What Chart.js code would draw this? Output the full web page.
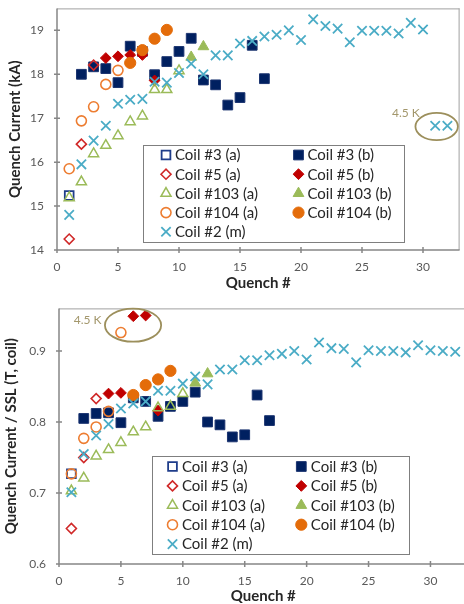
<!DOCTYPE html>
<html>
<head>
<meta charset="utf-8">
<script src="https://cdn.jsdelivr.net/npm/chart.js@4/dist/chart.umd.min.js"></script>
<style>
  html, body { margin: 0; padding: 0; background: #fff; overflow: hidden; width: 464px; height: 604px; }
  #topWrap { position: absolute; left: 0; top: 0; width: 468px; height: 300px; }
  #botWrap { position: absolute; left: 0; top: 300px; width: 476px; height: 304px; }
  canvas { display: block; }
</style>
</head>
<body>
<div id="topWrap"><canvas id="currentChart" width="468" height="300"></canvas></div>
<div id="botWrap"><canvas id="ratioChart" width="476" height="304"></canvas></div>
<script>
// ---- axis ticks ----
const xTicks = [0, 5, 10, 15, 20, 25, 30];
const yTicksCurrent = [14, 15, 16, 17, 18, 19];
const yTicksRatio = [0.6, 0.7, 0.8, 0.9];

// ---- series names ----
const seriesLabels = ['Coil #3 (a)', 'Coil #3 (b)', 'Coil #5 (a)', 'Coil #5 (b)',
  'Coil #103 (a)', 'Coil #103 (b)', 'Coil #104 (a)', 'Coil #104 (b)', 'Coil #2 (m)'];

// ---- quench numbers per series ----
const q3a = [1];
const q3b = [2, 3, 4, 5, 6, 7, 8, 9, 10, 11, 12, 13, 14, 15, 16, 17];
const q5a = [1, 2, 3];
const q5b = [4, 5, 6, 7, 8];
const q103a = [1, 2, 3, 4, 5, 6, 7, 8, 9, 10];
const q103b = [11, 12];
const q104a = [1, 2, 3, 4, 5];
const q104b = [6, 7, 8, 9];
const q2m = [1, 2, 3, 4, 5, 6, 7, 8, 9, 10, 11, 12, 13, 14, 15, 16,
  17, 18, 19, 20, 21, 22, 23, 24, 25, 26, 27, 28, 29, 30, 31, 32];

// ---- quench current, kA ----
const kA3a = [15.24];
const kA3b = [18.00, 18.17, 18.13, 17.81, 18.64, 18.52, 17.99, 18.29, 18.52, 18.82, 17.87, 17.76, 17.30, 17.47, 18.66, 17.90];
const kA5a = [14.25, 16.41, 18.21];
const kA5b = [18.37, 18.41, 18.44, 18.44, 17.86];
const kA103a = [15.19, 15.55, 16.19, 16.38, 16.60, 16.92, 17.05, 17.65, 17.65, 18.08];
const kA103b = [18.39, 18.63];
const kA104a = [15.85, 16.94, 17.26, 17.77, 18.09];
const kA104b = [18.26, 18.55, 18.81, 19.01];
const kA2m = [14.80, 15.95, 16.49, 16.83, 17.33, 17.42, 17.44, 17.83, 17.81, 18.03, 18.24, 18.00, 18.43, 18.43, 18.70, 18.76,
  18.86, 18.90, 19.00, 18.78, 19.25, 19.10, 19.04, 18.73, 18.99, 18.99, 18.99, 18.93, 19.17, 19.02, 16.83, 16.83];

// ---- quench current / short-sample limit ----
const ssl3a = [0.727];
const ssl3b = [0.805, 0.812, 0.813, 0.799, 0.834, 0.829, 0.808, 0.822, 0.829, 0.842, 0.800, 0.796, 0.779, 0.782, 0.838, 0.802];
const ssl5a = [0.650, 0.750, 0.833];
const ssl5b = [0.840, 0.841, 0.949, 0.950, 0.816];
const ssl103a = [0.703, 0.721, 0.752, 0.761, 0.771, 0.786, 0.793, 0.820, 0.822, 0.840];
const ssl103b = [0.855, 0.868];
const ssl104a = [0.727, 0.777, 0.793, 0.815, 0.926];
const ssl104b = [0.838, 0.852, 0.860, 0.872];
const ssl2m = [0.701, 0.755, 0.781, 0.797, 0.819, 0.826, 0.829, 0.844, 0.844, 0.854, 0.864, 0.853, 0.874, 0.874, 0.887, 0.887,
  0.894, 0.896, 0.900, 0.888, 0.912, 0.904, 0.903, 0.884, 0.901, 0.900, 0.900, 0.898, 0.908, 0.901, 0.900, 0.899];

// ---- 4.5 K call-outs (data units) ----
const callout45Current = { q: 31.12, v: 16.81, rq: 1.74, rv: 0.31, labelQ: 28.6, labelV: 17.125 };
const callout45Ratio = { q: 5.98, v: 0.9364, rq: 2.27, rv: 0.0233, labelQ: 2.31, labelV: 0.9437 };

// ---- marker styles, in series order ----
const clear = 'rgba(0,0,0,0)';
const markerStyles = [
  { pointStyle: 'rect',     radius: 6.2, fill: clear,     stroke: '#1F3D8A', width: 1.8 },
  { pointStyle: 'rect',     radius: 6.9, fill: '#002060', stroke: '#1B3470', width: 1 },
  { pointStyle: 'rectRot',  radius: 5.0, fill: clear,     stroke: '#D02828', width: 1.6 },
  { pointStyle: 'rectRot',  radius: 5.4, fill: '#C00000', stroke: '#C00000', width: 1 },
  { pointStyle: 'triangle', radius: 5.8, fill: clear,     stroke: '#9BBB59', width: 1.5 },
  { pointStyle: 'triangle', radius: 6.2, fill: '#9BBB59', stroke: '#9BBB59', width: 1 },
  { pointStyle: 'circle',   radius: 5.0, fill: clear,     stroke: '#ED7D31', width: 1.6 },
  { pointStyle: 'circle',   radius: 5.6, fill: '#E46C0A', stroke: '#E46C0A', width: 1 },
  { pointStyle: 'crossRot', radius: 6.6, fill: clear,     stroke: '#4BACC6', width: 1.8 }
];

const quenchSets = [q3a, q3b, q5a, q5b, q103a, q103b, q104a, q104b, q2m];
const currentSets = [kA3a, kA3b, kA5a, kA5b, kA103a, kA103b, kA104a, kA104b, kA2m];
const ratioSets = [ssl3a, ssl3b, ssl5a, ssl5b, ssl103a, ssl103b, ssl104a, ssl104b, ssl2m];

function buildDatasets(valueSets) {
  const n = seriesLabels.length;
  return seriesLabels.map((label, i) => {
    const m = markerStyles[i];
    return {
      label,
      data: quenchSets[i].map((q, k) => ({ x: q, y: valueSets[i][k] })),
      showLine: false,
      order: n - i,
      pointStyle: m.pointStyle,
      pointRadius: m.radius,
      pointHoverRadius: m.radius,
      pointBackgroundColor: m.fill,
      pointBorderColor: m.stroke,
      pointBorderWidth: m.width,
      backgroundColor: m.fill,
      borderColor: m.stroke,
      borderWidth: m.width
    };
  });
}

// Plot frame with tick marks crossing the axes
const framePlugin = {
  id: 'frame',
  beforeDatasetsDraw(chart) {
    const { ctx, chartArea: a, scales: { x, y } } = chart;
    ctx.save();
    ctx.strokeStyle = '#a0a0a0';
    ctx.lineWidth = 1;
    ctx.beginPath();
    ctx.moveTo(a.left, a.top + 0.5); ctx.lineTo(a.right, a.top + 0.5);
    ctx.moveTo(a.right - 0.5, a.top); ctx.lineTo(a.right - 0.5, a.bottom);
    ctx.stroke();
    ctx.strokeStyle = '#868686';
    ctx.lineWidth = 1.5;
    ctx.beginPath();
    ctx.moveTo(a.left, a.top); ctx.lineTo(a.left, a.bottom); ctx.lineTo(a.right, a.bottom);
    x.ticks.forEach(t => { const px = x.getPixelForValue(t.value); ctx.moveTo(px, a.bottom - 3); ctx.lineTo(px, a.bottom + 3); });
    y.ticks.forEach(t => { const py = y.getPixelForValue(t.value); ctx.moveTo(a.left - 3, py); ctx.lineTo(a.left + 3, py); });
    ctx.stroke();
    ctx.restore();
  }
};

// "4.5 K" ellipse call-out
const calloutPlugin = {
  id: 'callout',
  afterDatasetsDraw(chart, args, opts) {
    const { ctx, scales: { x, y } } = chart;
    const c = opts.mark;
    const cx = x.getPixelForValue(c.q), cy = y.getPixelForValue(c.v);
    const rx = Math.abs(x.getPixelForValue(c.q + c.rq) - cx);
    const ry = Math.abs(y.getPixelForValue(c.v + c.rv) - cy);
    ctx.save();
    ctx.strokeStyle = '#9C8F5C';
    ctx.lineWidth = 1.8;
    ctx.beginPath();
    ctx.ellipse(cx, cy, rx, ry, 0, 0, Math.PI * 2);
    ctx.stroke();
    ctx.fillStyle = '#A3976C';
    ctx.font = '12px Lato';
    ctx.textAlign = 'center';
    ctx.textBaseline = 'middle';
    ctx.fillText('4.5 K', x.getPixelForValue(c.labelQ), y.getPixelForValue(c.labelV));
    ctx.restore();
  }
};

// Boxed two-column legend drawn inside the plot
const boxLegendPlugin = {
  id: 'boxLegend',
  afterDatasetsDraw(chart, args, o) {
    const ctx = chart.ctx;
    ctx.save();
    ctx.fillStyle = '#fff';
    ctx.fillRect(o.x, o.y, o.w, o.h);
    ctx.strokeStyle = '#7f7f7f';
    ctx.lineWidth = 1;
    ctx.strokeRect(o.x + 0.5, o.y + 0.5, o.w, o.h);
    chart.data.datasets.forEach((ds, i) => {
      const col = i % 2, row = Math.floor(i / 2);
      const mx = o.x + o.markerX[col];
      const my = o.y + o.row0 + row * o.rowH;
      ctx.fillStyle = ds.pointBackgroundColor;
      ctx.strokeStyle = ds.pointBorderColor;
      ctx.lineWidth = ds.pointBorderWidth;
      Chart.helpers.drawPoint(ctx, { pointStyle: ds.pointStyle, radius: ds.pointRadius, borderWidth: ds.pointBorderWidth, rotation: 0 }, mx, my);
      ctx.fillStyle = '#262626';
      ctx.font = '15px Lato';
      ctx.textAlign = 'left';
      ctx.textBaseline = 'middle';
      ctx.fillText(ds.label, mx + o.gap, my + 0.5);
    });
    ctx.restore();
  }
};

// Keep the plot box fixed: no extra room for overhanging tick labels
function noOverhang(s) {
  s.paddingTop = 0; s.paddingBottom = 0; s.paddingLeft = 0; s.paddingRight = 0;
}

function makeOptions(cfg) {
  return {
    responsive: false,
    animation: false,
    events: [],
    layout: { padding: { top: 3, right: 1, left: 0, bottom: 0 } },
    plugins: {
      legend: { display: false },
      tooltip: { enabled: false },
      callout: { mark: cfg.mark },
      boxLegend: cfg.legend
    },
    scales: {
      x: {
        type: 'linear', min: 0, max: 33,
        afterBuildTicks: s => { s.ticks = xTicks.map(v => ({ value: v })); },
        afterFit: s => { s.height = cfg.xHeight; noOverhang(s); },
        grid: { display: false, drawTicks: false, tickLength: 0 },
        border: { display: false },
        ticks: { padding: 10, color: '#595959', font: { size: 12, family: 'Lato' } },
        title: { display: true, text: 'Quench #', color: '#262626',
          font: { size: 15, weight: 'bold', family: 'Lato', lineHeight: 1 },
          padding: { top: 0, bottom: cfg.xTitlePad } }
      },
      y: {
        type: 'linear', min: cfg.yMin, max: cfg.yMax,
        afterBuildTicks: s => { s.ticks = cfg.yTicks.map(v => ({ value: v })); },
        afterFit: s => { s.width = cfg.yWidth; noOverhang(s); },
        grid: { display: false, drawTicks: false, tickLength: 0 },
        border: { display: false },
        ticks: { padding: 13, color: '#595959', font: { size: 12, family: 'Lato' } },
        title: { display: true, text: cfg.yTitle, color: '#262626',
          font: { size: 15, weight: 'bold', family: 'Lato', lineHeight: 1 },
          padding: { top: cfg.yTitlePad, bottom: 0 } }
      }
    }
  };
}

Chart.defaults.font.family = 'Lato';

new Chart(document.getElementById('currentChart'), {
  type: 'scatter',
  data: { datasets: buildDatasets(currentSets) },
  options: makeOptions({
    yMin: 14, yMax: 19.5, yTicks: yTicksCurrent, yTitle: 'Quench Current (kA)',
    yWidth: 57, xHeight: 50, xTitlePad: 9, yTitlePad: 8,
    mark: callout45Current,
    legend: { x: 143, y: 145, w: 261, h: 97, markerX: [23, 155.5], row0: 10, rowH: 19.2, gap: 9 }
  }),
  plugins: [framePlugin, calloutPlugin, boxLegendPlugin]
});

new Chart(document.getElementById('ratioChart'), {
  type: 'scatter',
  data: { datasets: buildDatasets(ratioSets) },
  options: makeOptions({
    yMin: 0.6, yMax: 0.96, yTicks: yTicksRatio, yTitle: 'Quench Current / SSL (T, coil)',
    yWidth: 59, xHeight: 40, xTitlePad: 0, yTitlePad: 4,
    mark: callout45Ratio,
    legend: { x: 152, y: 156, w: 257, h: 98, markerX: [20.5, 149.3], row0: 10.5, rowH: 19.4, gap: 9.5 }
  }),
  plugins: [framePlugin, calloutPlugin, boxLegendPlugin]
});
</script>
</body>
</html>
